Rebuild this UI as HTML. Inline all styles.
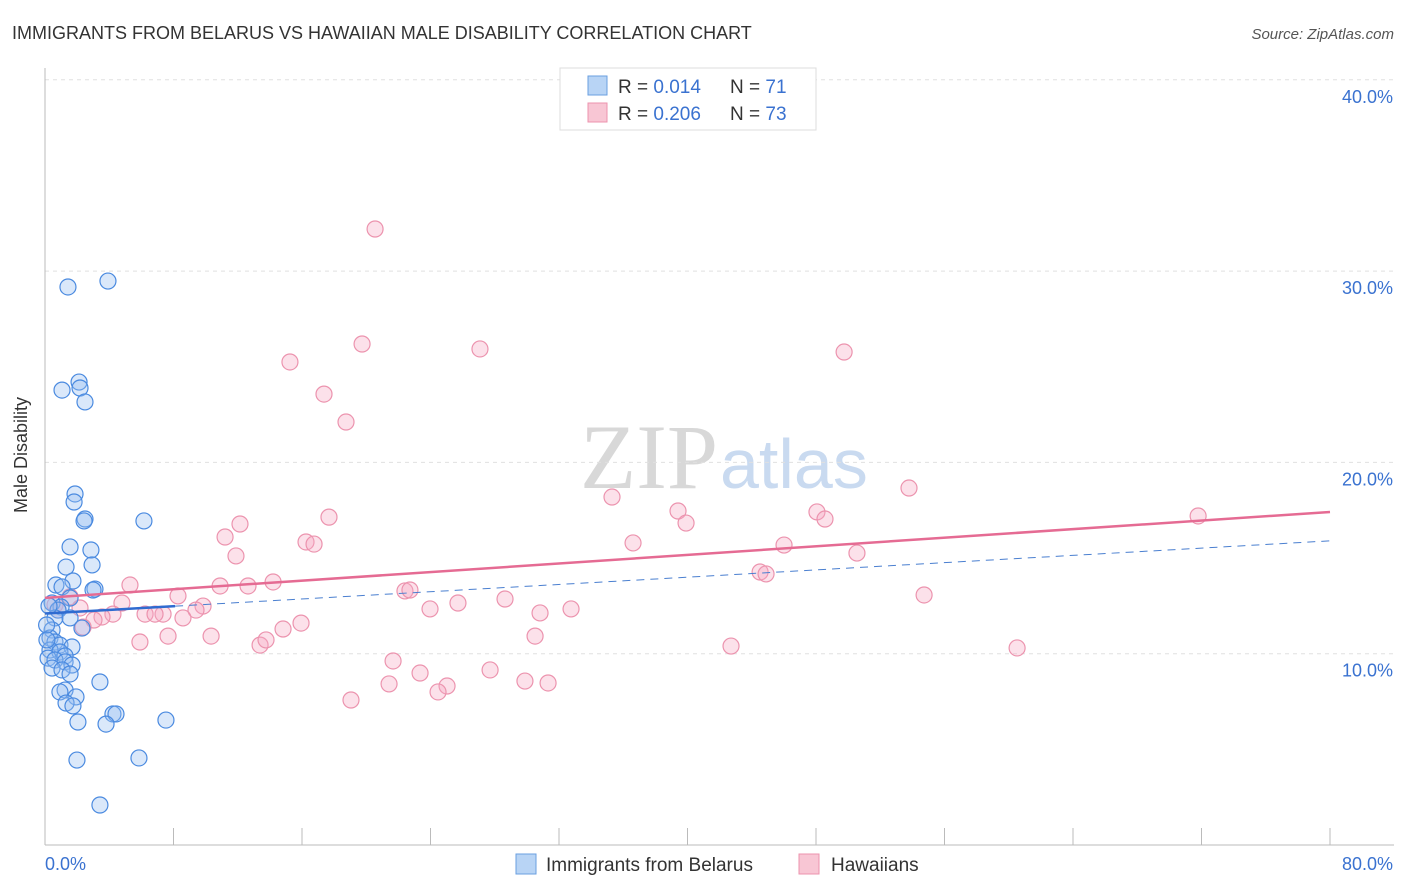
<!DOCTYPE html>
<html><head><meta charset="utf-8"><style>
body{margin:0;background:#fff;font-family:"Liberation Sans",sans-serif}
svg{display:block}
</style></head><body>
<svg width="1406" height="892" viewBox="0 0 1406 892" xmlns="http://www.w3.org/2000/svg">
<text x="12" y="39" font-size="18" fill="#333">IMMIGRANTS FROM BELARUS VS HAWAIIAN MALE DISABILITY CORRELATION CHART</text>
<text x="1394" y="39" font-size="15" fill="#555" font-style="italic" text-anchor="end">Source: ZipAtlas.com</text>
<text x="718" y="488" font-size="92" fill="#d8d8d8" text-anchor="end" font-family="Liberation Serif,serif">ZIP</text>
<text x="720" y="488" font-size="70" fill="#c9daf0">atlas</text>
<g id="grid"></g>
<g id="axes"></g>
<g id="pts"></g>
<g id="trend"></g>
<text x="27" y="455" font-size="18" fill="#333" text-anchor="middle" transform="rotate(-90 27 455)">Male Disability</text>
<g>
<rect x="560" y="68" width="256" height="62" fill="#fff" stroke="#ddd"/>
<rect x="588" y="76" width="19" height="19" fill="#b8d4f5" stroke="#6a9fe0"/>
<rect x="588" y="103" width="19" height="19" fill="#f8c6d4" stroke="#ec93ae"/>
<text x="618" y="93" font-size="19" fill="#333">R = <tspan fill="#3a72d0">0.014</tspan><tspan x="730">N = </tspan><tspan fill="#3a72d0">71</tspan></text>
<text x="618" y="120" font-size="19" fill="#333">R = <tspan fill="#3a72d0">0.206</tspan><tspan x="730">N = </tspan><tspan fill="#3a72d0">73</tspan></text>
</g>
<g>
<rect x="516" y="854" width="20" height="20" fill="#b8d4f5" stroke="#6a9fe0"/>
<text x="546" y="871" font-size="19" fill="#333">Immigrants from Belarus</text>
<rect x="799" y="854" width="20" height="20" fill="#f8c6d4" stroke="#ec93ae"/>
<text x="831" y="871" font-size="19" fill="#333">Hawaiians</text>
</g>
</svg>
<script>
const blueX=[1.43,3.92,1.06,2.12,2.18,2.49,1.87,1.81,2.49,2.43,6.16,1.56,2.86,2.93,1.31,0.68,1.74,1.06,3.11,2.99,1.56,0.44,1.00,0.81,0.62,1.56,2.30,0.44,0.31,0.62,0.93,1.68,0.31,0.93,1.25,0.19,0.62,1.25,1.68,0.44,1.06,1.56,1.25,0.93,1.93,3.42,1.31,1.74,4.23,4.42,2.05,3.80,7.53,1.99,5.85,3.42,0.1,0.12,0.25];
const blueY=[29.17,29.48,23.78,24.20,23.89,23.16,18.35,17.93,17.04,16.94,16.94,15.58,15.42,14.64,14.53,13.59,13.80,13.49,13.38,13.33,12.91,12.65,12.44,12.28,11.87,11.87,11.34,11.24,10.82,10.61,10.45,10.35,10.19,10.09,9.88,9.77,9.67,9.57,9.41,9.25,9.15,8.94,8.10,8.00,7.74,8.52,7.42,7.27,6.85,6.85,6.43,6.32,6.53,4.44,4.55,2.09,11.50,10.72,12.49];
const pinkX=[20.55,15.25,19.74,27.08,49.75,17.37,18.74,35.30,53.79,39.41,39.91,48.06,48.56,71.79,12.14,17.68,11.21,16.25,16.75,11.89,36.61,46.01,50.55,5.29,14.20,12.64,10.90,8.28,22.41,22.72,28.64,44.52,44.89,4.79,9.84,9.40,6.23,7.35,6.85,4.23,3.55,8.59,3.05,23.97,25.71,30.82,32.75,54.73,2.37,15.94,14.82,5.91,7.66,10.34,13.39,13.76,30.51,42.71,60.52,21.67,23.35,27.71,21.42,25.03,24.47,29.88,31.32,19.05,0.62,0.81,1.56,2.18];
const pinkY=[32.20,25.25,26.19,25.93,25.77,23.57,22.11,18.19,18.66,17.46,16.83,17.41,17.04,17.20,16.78,17.14,16.10,15.84,15.73,15.11,15.79,15.68,15.26,13.59,13.75,13.54,13.54,13.02,13.28,13.33,12.86,14.27,14.17,12.65,12.49,12.28,12.07,12.07,12.07,12.07,11.92,11.87,11.76,12.34,12.65,12.13,12.34,13.07,11.39,11.60,11.29,10.61,10.92,10.92,10.45,10.72,10.92,10.40,10.30,9.62,8.99,9.15,8.42,8.31,8.00,8.57,8.47,7.58,12.55,12.28,12.97,12.39];
const yTicks=[10,20,30,40];
const yTickLabels=["10.0%","20.0%","30.0%","40.0%"];
const xTickVals=[0,8,16,24,32,40,48,56,64,72,80];
const blueTrend=[12.1,15.9];   // y at x=0, x=80
const pinkTrend=[12.92,17.41];
const blueSolidEnd=8.1;

const NS="http://www.w3.org/2000/svg";
const sx=v=>45+v*(1285/80);
const sy=v=>845-v*19.13;
function mk(tag,attrs,parent){const e=document.createElementNS(NS,tag);for(const k in attrs)e.setAttribute(k,attrs[k]);parent.appendChild(e);return e;}
const grid=document.getElementById('grid'),axes=document.getElementById('axes'),pts=document.getElementById('pts'),trend=document.getElementById('trend');
yTicks.forEach((t,i)=>{
  const l=mk('line',{x1:45,x2:1394,y1:sy(t),y2:sy(t),stroke:'#e0e0e0','stroke-dasharray':'4,4'},grid);
  
  
  const tx=mk('text',{x:1393,y:sy(t)+23,'font-size':18,fill:'#3a72d0','text-anchor':'end'},axes);
  tx.textContent=yTickLabels[i];
  
  
});
mk('line',{x1:45,x2:45,y1:68,y2:845,stroke:'#bbb'},axes);
mk('line',{x1:45,x2:1394,y1:845,y2:845,stroke:'#bbb'},axes);
xTickVals.forEach(v=>{
  const t=mk('line',{x1:sx(v),x2:sx(v),y1:828,y2:845,stroke:'#bbb'},axes);
  
  
});
const x0=mk('text',{x:45,y:870,'font-size':18,fill:'#3a72d0'},axes);x0.textContent="0.0%";


const x1=mk('text',{x:1393,y:870,'font-size':18,fill:'#3a72d0','text-anchor':'end'},axes);x1.textContent="80.0%";


pinkX.forEach((x,i)=>{
  const c=mk('circle',{cx:sx(x),cy:sy(pinkY[i]),r:8,fill:'rgba(245,170,195,0.35)',stroke:'#ec93ae','stroke-width':1.2},pts);
  
  
});
blueX.forEach((x,i)=>{
  const c=mk('circle',{cx:sx(x),cy:sy(blueY[i]),r:8,fill:'rgba(150,190,240,0.35)',stroke:'#4a8ae0','stroke-width':1.2},pts);
  
  
});
const bAt=x=>blueTrend[0]+(blueTrend[1]-blueTrend[0])*x/80;
const bd=mk('line',{x1:sx(blueSolidEnd),y1:sy(bAt(blueSolidEnd)),x2:sx(80),y2:sy(bAt(80)),stroke:'#4a7fd0','stroke-width':1,'stroke-dasharray':'8,6'},trend);


const bs=mk('line',{x1:sx(0),y1:sy(bAt(0)),x2:sx(blueSolidEnd),y2:sy(bAt(blueSolidEnd)),stroke:'#2f6bd0','stroke-width':2.5},trend);


const pl=mk('line',{x1:sx(0),y1:sy(pinkTrend[0]),x2:sx(80),y2:sy(pinkTrend[1]),stroke:'#e56b93','stroke-width':2.5},trend);


</script>
</body></html>
